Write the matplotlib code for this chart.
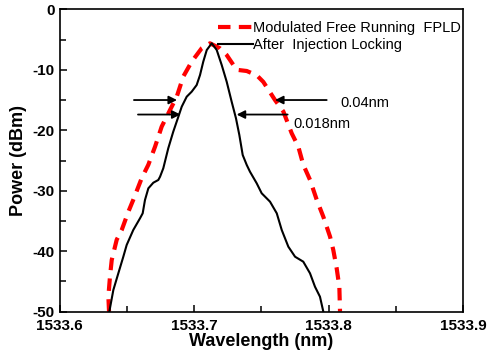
import matplotlib
matplotlib.use("Agg")
import matplotlib.pyplot as plt

plt.rcParams['font.family'] = ['Liberation Sans', 'DejaVu Sans']
plt.rcParams['axes.unicode_minus'] = False

# free running FPLD (red dashed)
free_wl = [1533.6368, 1533.6363, 1533.6375, 1533.6388, 1533.6425, 1533.6462,
           1533.6511, 1533.6548, 1533.6611, 1533.6660, 1533.6710, 1533.6759,
           1533.6821, 1533.6871, 1533.6920, 1533.6982, 1533.7056, 1533.7118,
           1533.7192, 1533.7242, 1533.7316, 1533.7391, 1533.7465, 1533.7514,
           1533.7601, 1533.7663, 1533.7725, 1533.7774, 1533.7811, 1533.7861,
           1533.7911, 1533.7960, 1533.8010, 1533.8034, 1533.8059, 1533.8079,
           1533.8084]
free_pw = [-50.0, -47.5, -44.2, -41.45, -38.1, -36.5,
           -33.5, -31.5, -27.9, -25.7, -22.7, -19.4,
           -16.65, -14.45, -11.1, -8.66, -6.45, -5.62,
           -6.45, -7.56, -10.0, -10.2, -10.9, -12.0,
           -15.0, -16.9, -20.5, -22.7, -25.7, -28.2,
           -31.5, -34.3, -37.6, -39.8, -42.8, -45.9,
           -50.0]

# after injection locking (black)
lock_wl = [1533.6370, 1533.6400, 1533.6437, 1533.6474, 1533.6499, 1533.6548,
           1533.6598, 1533.6618, 1533.6635, 1533.6660, 1533.6697, 1533.6734,
           1533.6747, 1533.6771, 1533.6808, 1533.6845, 1533.6883, 1533.6908,
           1533.6945, 1533.6982, 1533.7019, 1533.7044, 1533.7068, 1533.7094,
           1533.7131,
           1533.7168, 1533.7205, 1533.7242, 1533.7279, 1533.7311, 1533.7336,
           1533.7361, 1533.7391, 1533.7415, 1533.7465, 1533.7502, 1533.7564,
           1533.7614, 1533.7651, 1533.7700, 1533.7750, 1533.7811, 1533.7861,
           1533.7898, 1533.7935, 1533.7960]
lock_pw = [-50.0, -46.41, -43.65, -40.91, -38.97, -36.49,
           -34.56, -33.73, -31.53, -29.60, -28.67, -28.22,
           -27.68, -26.29, -22.98, -20.24, -17.76, -16.10,
           -14.45, -13.62, -12.52, -10.86, -8.66, -6.73,
           -5.62,
           -6.73, -9.21, -11.97, -15.28, -18.02, -20.78,
           -24.09, -25.74, -26.85, -28.77, -30.42, -31.81,
           -33.73, -36.49, -39.25, -40.91, -41.73, -43.65,
           -45.87, -47.52, -50.0]

fig = plt.figure(figsize=(4.93, 3.54), dpi=100)
ax = fig.add_axes([0.1207, 0.1195, 0.8191, 0.8542])

ax.plot(free_wl, free_pw, color='red', lw=3, dashes=(3, 2),
        label='Modulated Free Running  FPLD')
ax.plot(lock_wl, lock_pw, color='black', lw=1.5,
        label='After  Injection Locking')

# linewidth arrows
arrow = dict(arrowstyle='-|>', color='black', lw=1.3, mutation_scale=12,
             shrinkA=0, shrinkB=0)
ax.annotate('', xy=(1533.6873, -15.0), xytext=(1533.6553, -15.0), arrowprops=arrow)
ax.annotate('', xy=(1533.6899, -17.4), xytext=(1533.6583, -17.4), arrowprops=arrow)
ax.annotate('', xy=(1533.7601, -15.0), xytext=(1533.7985, -15.0), arrowprops=arrow)
ax.annotate('', xy=(1533.7316, -17.4), xytext=(1533.7695, -17.4), arrowprops=arrow)
ax.text(1533.8084, -15.5, '0.04nm', fontsize=10.5, va='center', ha='left')
ax.text(1533.7737, -19.0, '0.018nm', fontsize=10.5, va='center', ha='left')

ax.set_xlim(1533.6, 1533.9)
ax.set_ylim(-50, 0)
ax.set_xticks([1533.6, 1533.7, 1533.8, 1533.9])
ax.set_xticklabels(['1533.6', '1533.7', '1533.8', '1533.9'])
ax.set_xticks([1533.65, 1533.75, 1533.85], minor=True)
ax.set_yticks([-50, -40, -30, -20, -10, 0])
ax.set_yticks([-45, -35, -25, -15, -5], minor=True)
ax.tick_params(which='both', direction='in', top=False, right=False,
               labelsize=11, width=1.1)
ax.tick_params(axis='x', pad=5)
ax.tick_params(which='major', length=5)
ax.tick_params(which='minor', length=4)
for lab in ax.get_xticklabels() + ax.get_yticklabels():
    lab.set_fontweight('bold')
for sp in ax.spines.values():
    sp.set_linewidth(1.2)

ax.set_xlabel('Wavelength (nm)', fontsize=13, fontweight='bold', labelpad=0)
ax.set_ylabel('Power (dBm)', fontsize=13, fontweight='bold', labelpad=4)

ax.legend(loc='upper left', bbox_to_anchor=(0.3925, 0.962), frameon=False,
          fontsize=10.5, handlelength=2.4, handletextpad=0.0, borderpad=0,
          borderaxespad=0, labelspacing=0.25)

fig.savefig('out.png', dpi=100)
